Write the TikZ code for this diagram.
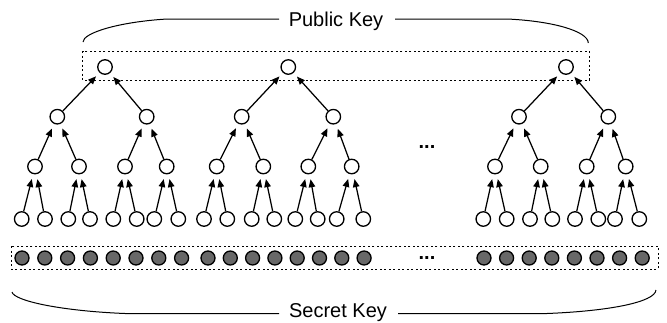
\documentclass[tikz,border=0pt]{standalone}
\usepackage{fontspec}
\setmainfont{Liberation Sans}
\usetikzlibrary{arrows.meta}
\definecolor{keygray}{HTML}{686868}
\begin{document}
\begin{tikzpicture}[x=1pt,y=-1pt,
  onode/.style={circle,draw,line width=1.3pt,minimum size=14.5pt,inner sep=0pt,fill=white},
  fnode/.style={circle,draw,line width=1.3pt,minimum size=14pt,inner sep=0pt,fill=keygray},
  arr/.style={line width=1.25pt,-{Triangle[length=8pt,width=6.5pt]},shorten >=5pt},
  keybox/.style={line width=0.9pt,dash pattern=on 2pt off 2.5pt},
  bracket/.style={line width=1pt},
  lbl/.style={font=\fontsize{20}{24}\selectfont,inner sep=0pt},
  dotslbl/.style={font=\fontsize{20}{24}\selectfont\bfseries,inner sep=0pt}]
\useasboundingbox (0,0) rectangle (667,322);

% dashed key boxes
\draw[keybox] (82.7,51) rectangle (589.3,80);
\draw[keybox] (11.7,246) rectangle (658,269.3);

% trees: root, level 2, level 3
\foreach \t/\r/\a/\b/\ca/\cb/\cc/\cd in {
  1/105/57.3/146.7/35/79/125/166.7,
  2/288.3/241.7/333.3/216.7/263.3/308.3/351.7,
  3/566/519/608.3/495/540.7/586.7/625.7}{
  \node[onode] (r\t) at (\r,67) {};
  \node[onode] (m\t1) at (\a,116.7) {};
  \node[onode] (m\t2) at (\b,116.7) {};
  \node[onode] (n\t1) at (\ca,166.5) {};
  \node[onode] (n\t2) at (\cb,166.5) {};
  \node[onode] (n\t3) at (\cc,166.5) {};
  \node[onode] (n\t4) at (\cd,166.5) {};
  \draw[arr] (m\t1) -- (r\t);
  \draw[arr] (m\t2) -- (r\t);
  \draw[arr] (n\t1) -- (m\t1);
  \draw[arr] (n\t2) -- (m\t1);
  \draw[arr] (n\t3) -- (m\t2);
  \draw[arr] (n\t4) -- (m\t2);
}

% leaves
\foreach \t/\i/\x in {
  1/1/21.7,1/2/45,1/3/68.3,1/4/90,1/5/113.3,1/6/136.7,1/7/154.3,1/8/178.3,
  2/1/204,2/2/227.3,2/3/251.7,2/4/274.3,2/5/295.3,2/6/317.7,2/7/336.7,2/8/363.3,
  3/1/483.3,3/2/506.7,3/3/530,3/4/552.3,3/5/575,3/6/598.3,3/7/615,3/8/639.3}{
  \pgfmathtruncatemacro\j{(\i+1)/2}
  \node[onode] (l\t\i) at (\x,219) {};
  \draw[arr] (l\t\i) -- (n\t\j);
}

% secret key elements
\foreach \g/\s/\d in {1/22/22.8,2/208/22.3,3/484/22.6}{
  \foreach \i in {0,...,7}{
    \node[fnode] (s\g\i) at ({\s+\i*\d},258) {};
  }
}

% ellipses
\node[dotslbl,anchor=base] (dotsA) at (427,148) {...};
\node[dotslbl,anchor=base] (dotsB) at (427,259.5) {...};

% labels and brackets
\node[lbl,anchor=base] (pub) at (336,26) {Public Key};
\node[lbl,anchor=base] (sec) at (338,317.5) {Secret Key};

\draw[bracket] (83,42) .. controls (83,33) and (118,22) .. (167,19) -- (279,19);
\draw[bracket] (395,19) -- (507,19) .. controls (552,21) and (588,31) .. (588.3,43);
\draw[bracket] (12,292) .. controls (14,301) and (62,311) .. (125,313.5) -- (279,313.5);
\draw[bracket] (398,313.5) -- (547,313.5) .. controls (610,311) and (655,302) .. (656,290);
\end{tikzpicture}
\end{document}
